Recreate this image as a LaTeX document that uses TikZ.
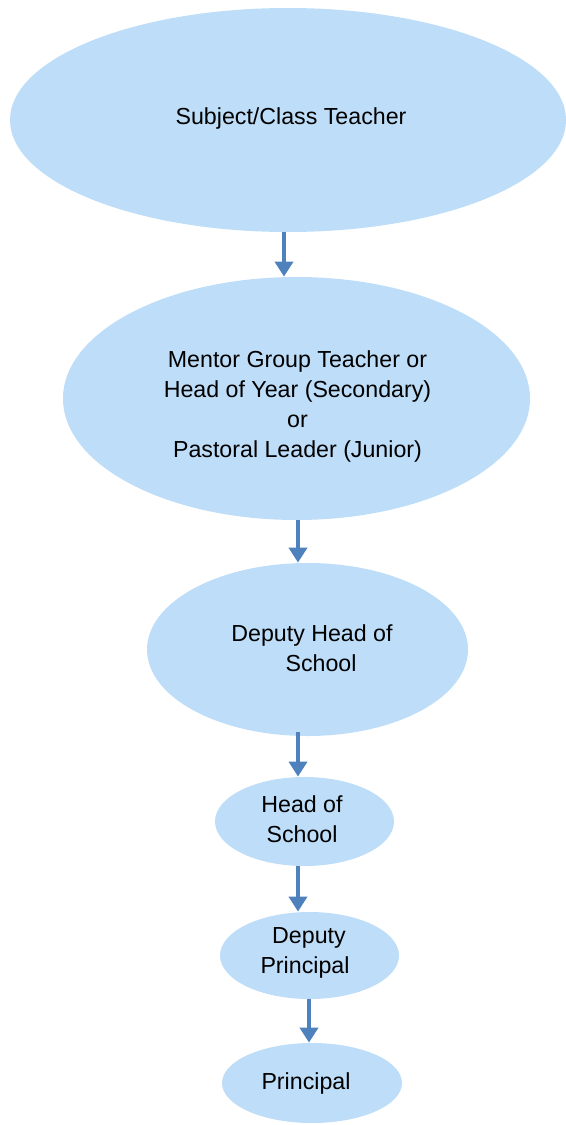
\documentclass[tikz,border=0pt]{standalone}
\usepackage{fontspec}
\setmainfont{Liberation Sans}
\usetikzlibrary{shapes.geometric, arrows.meta, positioning}

\definecolor{bubblefill}{HTML}{BDDDF8}
\definecolor{flowblue}{HTML}{4F81BD}

\tikzset{
	bubble/.style={ellipse, fill=bubblefill, draw=none, inner sep=0pt},
	bubbletext/.style={align=center, inner sep=0pt, font=\fontsize{11.6}{15}\selectfont},
	flow/.style={draw=flowblue, line width=2pt, -{Triangle[width=9pt, length=7.5pt]}}
}

\begin{document}
\begin{tikzpicture}[x=0.5pt, y=-0.5pt]
			\useasboundingbox (0,0) rectangle (566,1125);
			
			% the chain of ellipses, top to bottom
			\node[bubble, minimum width=278pt, minimum height=112pt] (teacher) at (288, 120) {};
			\node[bubble, minimum width=233.5pt, minimum height=121.5pt] (mentor) at (296.5, 398.5) {};
			\node[bubble, minimum width=160.5pt, minimum height=86.5pt] (deputyhead) at (307.5, 649.5) {};
			\node[bubble, minimum width=89.5pt, minimum height=44.5pt] (headschool) at (304.5, 821.5) {};
			\node[bubble, minimum width=89.5pt, minimum height=43.5pt] (deputyprin) at (309.5, 955.5) {};
			\node[bubble, minimum width=90pt, minimum height=40pt] (principal) at (312, 1083) {};
			
			\node[bubbletext] (teachertxt) at (291, 118) {Subject/Class Teacher};
			\node[bubbletext] (mentortxt) at (297.5, 406.5) {Mentor Group Teacher or\\ Head of Year (Secondary)\\ or\\ Pastoral Leader (Junior)};
			\node[bubbletext] (deputyheadtxt) at (312, 648) {Deputy Head of\\ \hspace*{9pt}School};
			\node[bubbletext] (headschooltxt) at (302, 819.5) {Head of\\ School};
			\node[bubbletext] (deputyprintxt) at (305, 953) {\hspace*{4pt}Deputy\\ Principal};
			\node[bubbletext] (principaltxt) at (306, 1083) {Principal};
			
			\draw[flow] ([xshift=-2pt]teacher.south) -- ([xshift=-6.25pt]mentor.north);
			\draw[flow] ([xshift=0.75pt]mentor.south) -- ([xshift=-4.75pt]deputyhead.north);
			\draw[flow] ([xshift=-4.75pt, yshift=2pt]deputyhead.south) -- ([xshift=-3.25pt]headschool.north);
			\draw[flow] ([xshift=-3.25pt]headschool.south) -- ([xshift=-5.75pt]deputyprin.north);
			\draw[flow] ([xshift=-0.25pt]deputyprin.south) -- ([xshift=-1.5pt]principal.north);
\end{tikzpicture}
\end{document}
